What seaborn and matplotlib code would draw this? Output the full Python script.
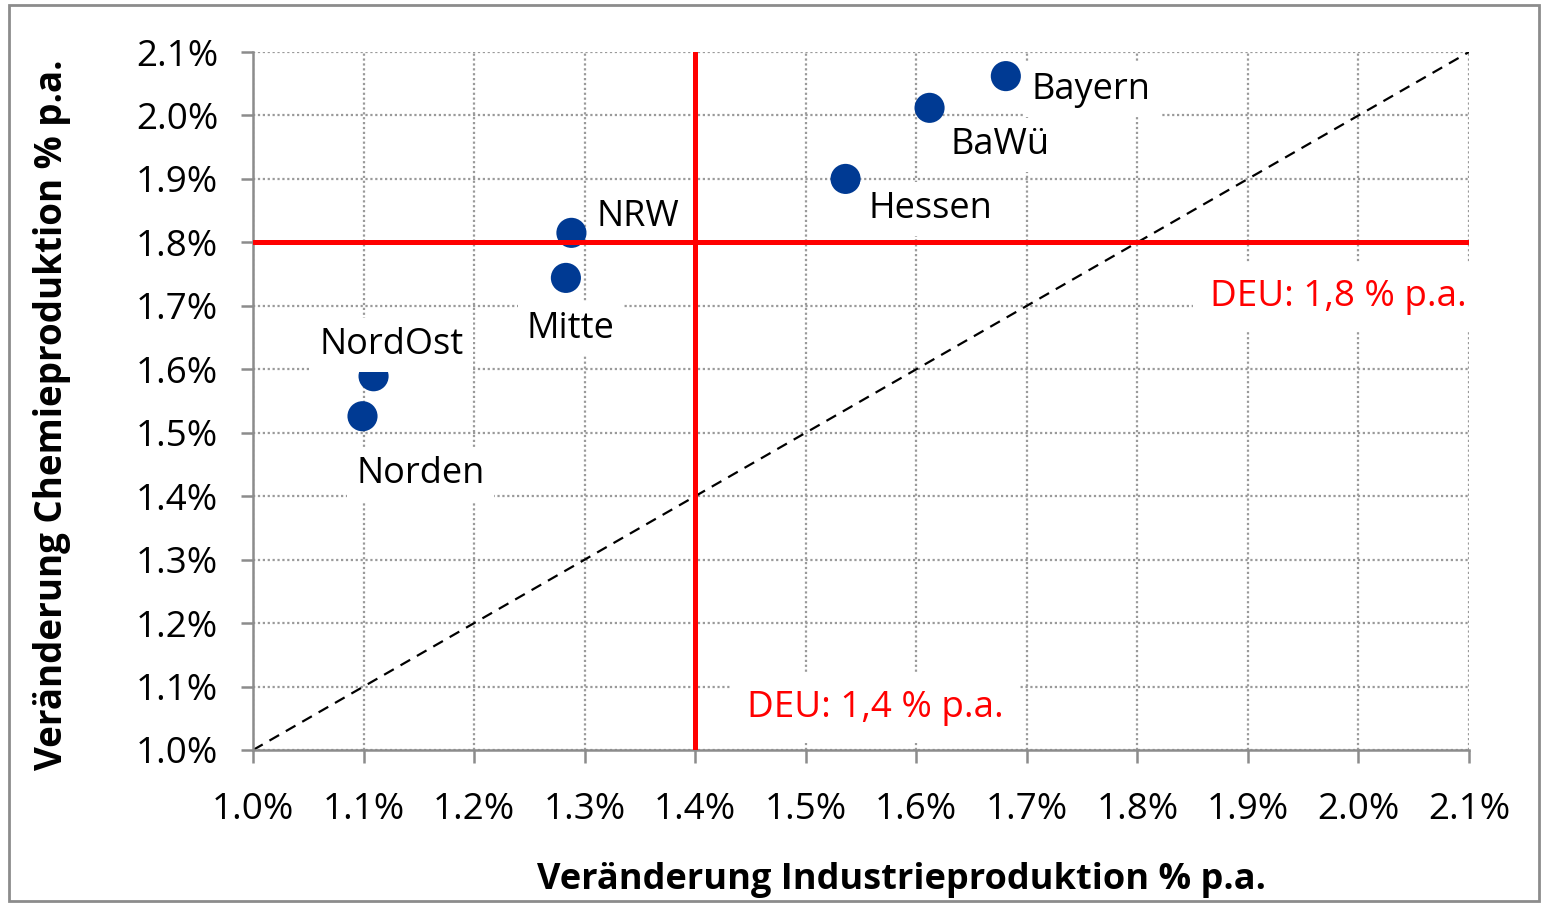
import pandas as pd
import seaborn as sns
import matplotlib.pyplot as plt
from matplotlib.patches import Rectangle
from matplotlib.ticker import FuncFormatter, MultipleLocator

# Werte
regionen = ["Bayern", "BaWü", "Hessen", "NRW", "Mitte", "NordOst", "Norden"]
industrie = [1.681, 1.612, 1.536, 1.288, 1.283, 1.109, 1.099]
chemie = [2.062, 2.012, 1.900, 1.815, 1.744, 1.589, 1.526]
deu_industrie = 1.4
deu_chemie = 1.8

# Label-Versatz in Pixeln (dx, dy)
label_offsets = {
    "Bayern": (26, -14),
    "BaWü": (21, -37),
    "Hessen": (23, -30),
    "NRW": (25, 16),
    "Mitte": (-39, -51),
    "NordOst": (-54, 31),
    "Norden": (-6, -58),
}

df = pd.DataFrame({"region": regionen, "industrie": industrie, "chemie": chemie})

sns.set_theme(style="white")
plt.rcParams["font.family"] = ["Open Sans", "DejaVu Sans"]
plt.rcParams["text.color"] = "black"
plt.rcParams["axes.labelcolor"] = "black"

fig = plt.figure(figsize=(15.45, 9.06), dpi=100)
ax = fig.add_axes([0.1638, 0.1722, 0.7870, 0.7704])

ax.grid(True, color="#9a9a9a", linestyle=(0, (1, 1.2)), linewidth=1.6, zorder=0)
ax.set_axisbelow(True)

ax.plot([1.0, 2.1], [1.0, 2.1], color="black", linestyle=(0, (5, 3.5)), linewidth=1.6, zorder=2)

sns.scatterplot(data=df, x="industrie", y="chemie", color="#003a93", s=470,
                edgecolor="none", ax=ax, zorder=4, clip_on=False)

for reg, x, y in zip(regionen, industrie, chemie):
    dx, dy = label_offsets[reg]
    ax.annotate(reg, (x, y), xytext=(dx, dy), textcoords="offset pixels",
                ha="left", va="center", fontsize=26, color="black", zorder=5,
                bbox=dict(boxstyle="square,pad=0.25", fc="white", ec="none"))

# rote Linien liegen über Punkten und Labels
ax.axhline(deu_chemie, color="#ff0000", linewidth=3.6, zorder=6)
ax.axvline(deu_industrie, color="#ff0000", linewidth=3.6, zorder=6)

ax.text(2.098, 1.714, "DEU: 1,8 % p.a.", ha="right", va="center", fontsize=26.5,
        color="#ff0000", zorder=5,
        bbox=dict(boxstyle="square,pad=0.45", fc="white", ec="none"))
ax.text(1.447, 1.066, "DEU: 1,4 % p.a.", ha="left", va="center", fontsize=26.5,
        color="#ff0000", zorder=5,
        bbox=dict(boxstyle="square,pad=0.45", fc="white", ec="none"))

ax.set_xlim(1.0, 2.1)
ax.set_ylim(1.0, 2.1)
ax.xaxis.set_major_locator(MultipleLocator(0.1))
ax.yaxis.set_major_locator(MultipleLocator(0.1))
fmt = FuncFormatter(lambda v, p: f"{v:.1f}%")
ax.xaxis.set_major_formatter(fmt)
ax.yaxis.set_major_formatter(fmt)

for side in ["top", "right"]:
    ax.spines[side].set_visible(False)
for side in ["left", "bottom"]:
    ax.spines[side].set_color("#8c8c8c")
    ax.spines[side].set_linewidth(1.8)

ax.tick_params(axis="both", which="major", direction="out", length=9, width=1.8,
               color="#8c8c8c", labelsize=26.5, labelcolor="black")
ax.tick_params(axis="y", pad=16, left=True)
ax.tick_params(axis="x", pad=21, bottom=True)

ax.set_xlabel("Veränderung Industrieproduktion % p.a.", fontsize=26, fontweight="bold")
ax.set_ylabel("Veränderung Chemieproduktion % p.a.", fontsize=26.5, fontweight="bold")
ax.xaxis.set_label_coords(0.533, -0.16)
ax.yaxis.set_label_coords(-0.150, 0.48)

fig.patches.append(Rectangle((0.006, 0.005), 0.990, 0.989, transform=fig.transFigure,
                             fill=False, edgecolor="#8c8c8c", linewidth=2.0))

fig.savefig("out.png", dpi=100)
